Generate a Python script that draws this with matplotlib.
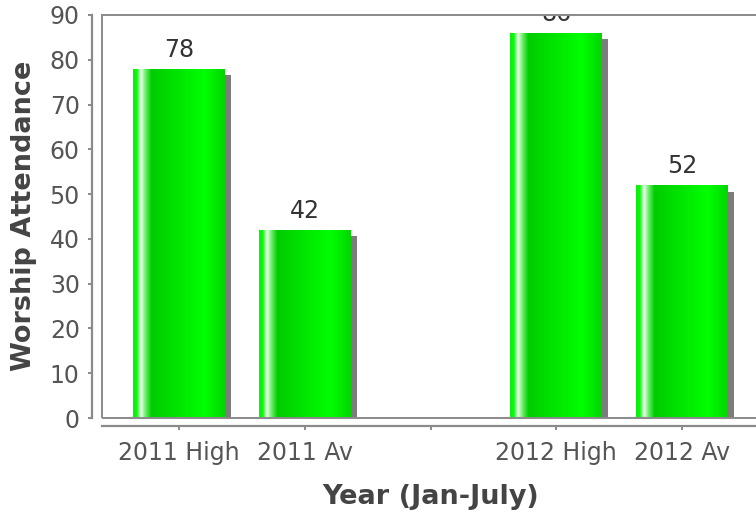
import numpy as np
import matplotlib
matplotlib.use("Agg")
import matplotlib.pyplot as plt
from matplotlib.colors import LinearSegmentedColormap
from matplotlib.patches import Rectangle
from matplotlib.transforms import ScaledTranslation

categories = ["2011 High", "2011 Av", "", "2012 High", "2012 Av"]
attendance = [78, 42, np.nan, 86, 52]
y_ticks = [0, 10, 20, 30, 40, 50, 60, 70, 80, 90]

DPI = 100
W, H = 756, 514
fig = plt.figure(figsize=(W / DPI, H / DPI), dpi=DPI)
fig.patch.set_facecolor("white")

# plot area in pixel terms (left, top, right, bottom)
L, T, R, B = 102, 15, 759, 418
ax = fig.add_axes([L / W, 1 - B / H, (R - L) / W, (B - T) / H])
ax.set_facecolor("white")

x = np.arange(len(categories))

grey_axis = "#8a8a8a"
tick_color = "#555555"

# horizontal gradient used to shade each bar
bar_cmap = LinearSegmentedColormap.from_list(
    "bar_shade",
    [
        (0.00, (0.10, 0.90, 0.10)),
        (0.04, (0.00, 1.00, 0.00)),
        (0.085, (0.96, 1.00, 0.96)),
        (0.13, (0.45, 0.95, 0.45)),
        (0.20, (0.00, 0.80, 0.00)),
        (0.78, (0.00, 1.00, 0.00)),
        (1.00, (0.00, 0.84, 0.00)),
    ],
)
gradient = np.linspace(0, 1, 256).reshape(1, -1)

width = 0.73
shadow_offset = ax.transData + ScaledTranslation(6 / DPI, -6.5 / DPI, fig.dpi_scale_trans)

for xi, val in zip(x, attendance):
    if np.isnan(val):
        continue
    # drop shadow
    sh = Rectangle((xi - width / 2, 0), width, val, facecolor="#7c7c7c",
                   edgecolor="none", transform=shadow_offset, zorder=1)
    ax.add_patch(sh)
    sh.set_clip_box(ax.bbox)

bars = ax.bar(x, np.nan_to_num(attendance), width=width, facecolor="none",
              edgecolor="none", zorder=2)
for xi, val, bar in zip(x, attendance, bars):
    if np.isnan(val):
        continue
    im = ax.imshow(gradient, cmap=bar_cmap, aspect="auto",
                   extent=(xi - width / 2, xi + width / 2, 0, val),
                   interpolation="bilinear", zorder=2)
    im.set_clip_path(bar)
    ax.annotate(f"{int(val)}", (xi, val), xytext=(0, 5), textcoords="offset points",
                ha="center", va="bottom", fontsize=17, color="#333333",
                annotation_clip=False, clip_on=True, zorder=3)

ax.set_xlim(-0.61, len(categories) - 1 + 0.61)
ax.set_ylim(0, 90)

# plot outline
ax.add_patch(Rectangle((0, 0), 1, 1, transform=ax.transAxes, fill=False,
                       edgecolor=grey_axis, linewidth=1.4, zorder=5, clip_on=False))

for s in ["top", "right"]:
    ax.spines[s].set_visible(False)
ax.spines["left"].set_position(("outward", 7))
ax.spines["bottom"].set_position(("outward", 5.5))
for s in ["left", "bottom"]:
    ax.spines[s].set_color(grey_axis)
    ax.spines[s].set_linewidth(1.6)

ax.set_xticks(x)
ax.set_xticklabels(categories)
ax.set_yticks(y_ticks)
ax.tick_params(axis="both", colors=grey_axis, labelcolor=tick_color, labelsize=17,
               length=3, width=1.4, direction="out")
ax.tick_params(axis="y", pad=6)
ax.tick_params(axis="x", pad=8)

fig.text(24 / W, 1 - 216 / H, "Worship Attendance", rotation=90, ha="center",
         va="center", fontsize=19.5, fontweight="bold", color="#444444")
fig.text(431 / W, 1 - 497 / H, "Year (Jan-July)", ha="center", va="center",
         fontsize=19.5, fontweight="bold", color="#444444")

fig.savefig("out.png", dpi=DPI, facecolor="white")
